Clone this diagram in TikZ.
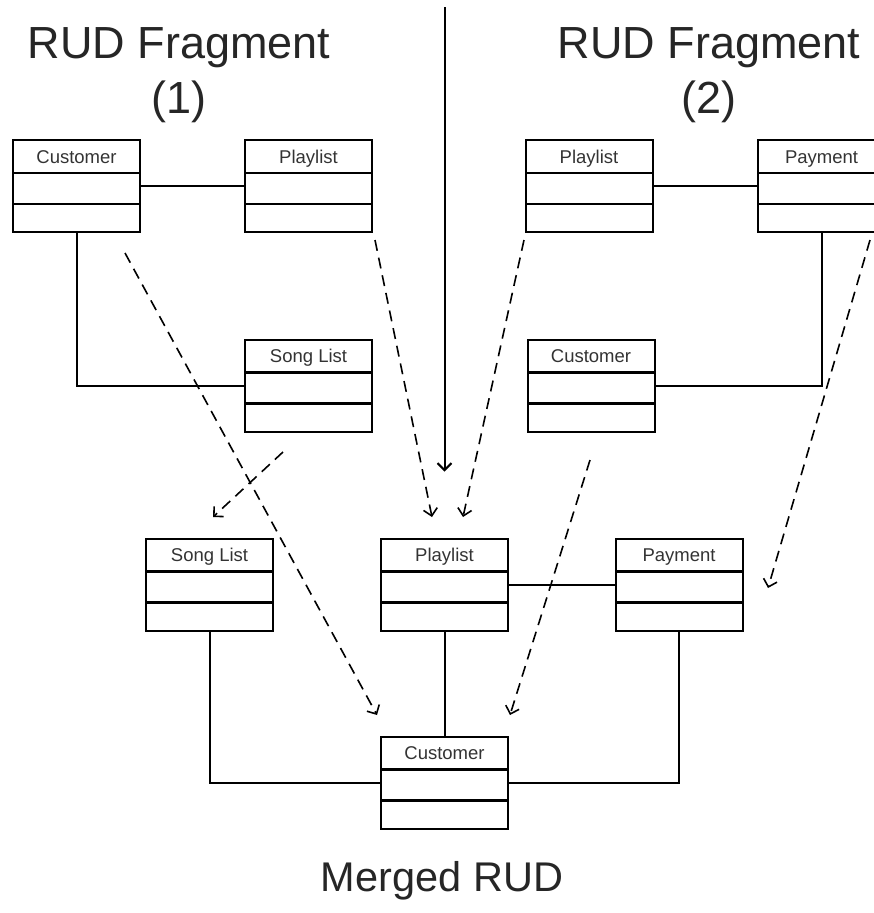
\documentclass[tikz,border=0pt]{standalone}
\usepackage{fontspec}
\setmainfont{Liberation Sans}
\usetikzlibrary{arrows.meta}
\usetikzlibrary{calc}

\tikzset{
  umlclass/.style={draw,line width=2pt,minimum width=127pt,minimum height=92pt,
    inner sep=0pt,text height=23pt,text depth=69pt,
    font=\fontsize{18.5}{22}\selectfont,text=black!80,
    path picture={
      \draw[line width=2.4pt] ([yshift=-33pt]path picture bounding box.north west) -- ([yshift=-33pt]path picture bounding box.north east);
      \draw[line width=2.4pt] ([yshift=-64pt]path picture bounding box.north west) -- ([yshift=-64pt]path picture bounding box.north east);
    }},
  assoc/.style={line width=2pt},
  mapsto/.style={->,line width=1.6pt,dash pattern=on 11pt off 7pt},
  rudtitle/.style={align=center,inner sep=0pt,font=\fontsize{45}{55}\selectfont,text=black!85}
}

\begin{document}
\begin{tikzpicture}[x=1pt,y=-1pt,>={Straight Barb[length=7pt,width=14pt]}]
\useasboundingbox (0,0) rectangle (874,913);

% titles
\draw node [rudtitle,anchor=north] (T1) at (179,27) {RUD Fragment\\(1)};
\draw node [rudtitle,anchor=north] (T2) at (709,27) {RUD Fragment\\(2)};
\draw node [rudtitle,anchor=north,font=\fontsize{41.5}{50}\selectfont] (T3) at (442,861) {Merged RUD};

% fragment 1
\draw node [umlclass] (C1) at (76.5,186)  {Customer};
\draw node [umlclass] (P1) at (308.5,186) {Playlist};
\draw node [umlclass] (S1) at (308.5,385.5) {Song List};
\draw [assoc] (C1) -- (P1);
\draw [assoc] (C1.south) |- (S1.west);

% fragment 2
\draw node [umlclass] (P2) at (589,186)   {Playlist};
\draw node [umlclass] (Y2) at (821.5,186) {Payment};
\draw node [umlclass] (C2) at (591,385.5) {Customer};
\draw [assoc] (P2) -- (Y2);
\draw [assoc] (Y2.south) |- (C2.east);

% merged
\draw node [umlclass] (SM) at (209.5,584.5) {Song List};
\draw node [umlclass] (PM) at (444.5,584.5) {Playlist};
\draw node [umlclass] (YM) at (679,584.5)   {Payment};
\draw node [umlclass] (CM) at (444.5,782.5) {Customer};
\draw [assoc] (PM) -- (YM);
\draw [assoc] (PM) -- (CM);
\draw [assoc] (SM.south) |- (CM.west);
\draw [assoc] (YM.south) |- (CM.east);

% separator
\coordinate (top) at (444.5,7);
\draw [assoc,->] (top) -- ($(PM.north)+(0,-66)$);

% mappings
\coordinate (c1a) at (125,253);  \coordinate (c1b) at (377,715);
\coordinate (p1a) at (375,240);  \coordinate (p1b) at (432,517);
\coordinate (p2a) at (524,240);  \coordinate (p2b) at (463,517);
\coordinate (y2a) at (870,240);  \coordinate (y2b) at (768,588);
\coordinate (s1a) at (283,452);  \coordinate (s1b) at (213,517);
\coordinate (c2a) at (590,460);  \coordinate (c2b) at (510,715);
\draw [mapsto] (c1a) -- (c1b);
\draw [mapsto] (p1a) -- (p1b);
\draw [mapsto] (p2a) -- (p2b);
\draw [mapsto] (y2a) -- (y2b);
\draw [mapsto] (s1a) -- (s1b);
\draw [mapsto] (c2a) -- (c2b);
\end{tikzpicture}
\end{document}
